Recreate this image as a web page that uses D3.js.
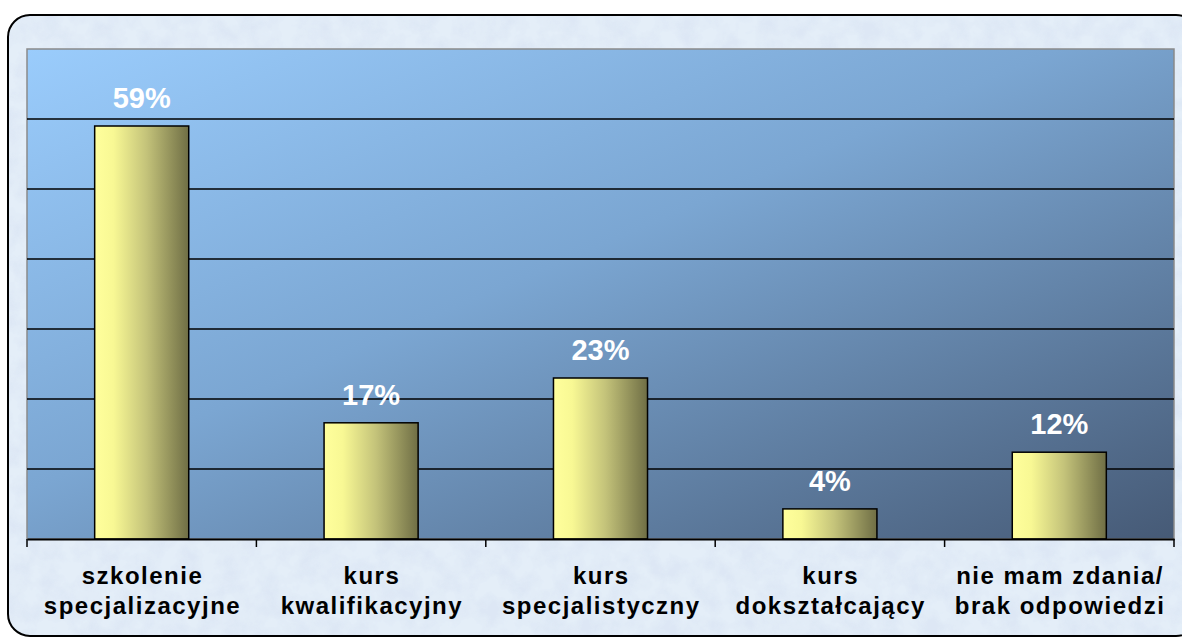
<!DOCTYPE html>
<html><head><meta charset="utf-8">
<script src="https://cdn.jsdelivr.net/npm/d3@7/dist/d3.min.js"></script>
<style>body{margin:0;background:#fff;}svg{display:block;}</style>
</head><body>
<svg id="c" width="1182" height="639"></svg>
<script>
const categories = [["szkolenie","specjalizacyjne"],["kurs","kwalifikacyjny"],["kurs","specjalistyczny"],["kurs","dokształcający"],["nie mam zdania/","brak odpowiedzi"]];
const values = [59, 16.6, 23, 4.3, 12.4];
const valueLabels = ["59%","17%","23%","4%","12%"];
const yTicks = [0,10,20,30,40,50,60,70];

const svg = d3.select("#c");
const defs = svg.append("defs");

// marble texture background
const f = defs.append("filter").attr("id","marble").attr("x",0).attr("y",0).attr("width","100%").attr("height","100%");
f.append("feTurbulence").attr("type","fractalNoise").attr("baseFrequency","0.05").attr("numOctaves",4).attr("seed",3).attr("result","n");
f.append("feColorMatrix").attr("in","n").attr("type","matrix")
 .attr("values","0 0 0 0 0.72  0 0 0 0 0.80  0 0 0 0 0.91  0 0 0 -2.2 1.5").attr("result","c");
f.append("feComposite").attr("in","c").attr("in2","SourceGraphic").attr("operator","in");

const pg = defs.append("linearGradient").attr("id","plotg").attr("x1","0").attr("y1","0").attr("x2","1").attr("y2","1");
pg.append("stop").attr("offset","0").attr("stop-color","#9ACCFC");
pg.append("stop").attr("offset","0.45").attr("stop-color","#7BA6D2");
pg.append("stop").attr("offset","1").attr("stop-color","#465A76");

const bg = defs.append("linearGradient").attr("id","barg").attr("x1","0").attr("y1","0").attr("x2","1").attr("y2","0");
bg.append("stop").attr("offset","0").attr("stop-color","#FFFF9C");
bg.append("stop").attr("offset","0.2").attr("stop-color","#F8F894");
bg.append("stop").attr("offset","0.55").attr("stop-color","#C4C37A");
bg.append("stop").attr("offset","1").attr("stop-color","#6F6E45");

// outer frame
svg.append("rect").attr("x",8).attr("y",15).attr("width",1190).attr("height",621).attr("rx",22)
  .attr("fill","#E4EEF8");
svg.append("rect").attr("x",8).attr("y",15).attr("width",1190).attr("height",621).attr("rx",22)
  .attr("fill","#fff").attr("filter","url(#marble)").attr("opacity",0.9);
svg.append("rect").attr("x",8).attr("y",15).attr("width",1190).attr("height",621).attr("rx",22)
  .attr("fill","none").attr("stroke","#000").attr("stroke-width",2);

const L = 27, R = 1174, T = 49, B = 539;
const x = d3.scaleBand().domain(d3.range(categories.length)).range([L,R]).paddingInner(0.59).paddingOuter(0.295);
const xOuter = d3.scaleBand().domain(d3.range(categories.length)).range([L,R]);
const y = d3.scaleLinear().domain([0,70]).range([B,T]);

svg.append("rect").attr("x",L).attr("y",T).attr("width",R-L).attr("height",B-T)
  .attr("fill","url(#plotg)").attr("stroke","#8a8a8a").attr("stroke-width",1.5);

// gridlines
svg.append("g").selectAll("line").data(yTicks.filter(t=>t>0 && t<70)).join("line")
  .attr("x1",L).attr("x2",R).attr("y1",d=>y(d)).attr("y2",d=>y(d))
  .attr("stroke","#000").attr("stroke-width",1.5);

// bars
svg.append("g").selectAll("rect").data(values).join("rect")
  .attr("x",(d,i)=>x(i)).attr("width",x.bandwidth())
  .attr("y",d=>y(d)).attr("height",d=>B-y(d))
  .attr("fill","url(#barg)").attr("stroke","#000").attr("stroke-width",1.5);

// x axis
const xa = d3.axisBottom(xOuter).tickSize(0).tickFormat("");
const ag = svg.append("g").attr("transform",`translate(0,${B})`).call(xa);
ag.select(".domain").attr("stroke","#000").attr("stroke-width",2);
svg.append("g").selectAll("line").data(d3.range(categories.length+1)).join("line")
  .attr("x1",i=>L+i*xOuter.step()).attr("x2",i=>L+i*xOuter.step())
  .attr("y1",B).attr("y2",B+8).attr("stroke","#000").attr("stroke-width",1.5);

// value labels
svg.append("g").selectAll("text").data(values).join("text")
  .attr("x",(d,i)=>x(i)+x.bandwidth()/2).attr("y",d=>y(d)-18)
  .attr("text-anchor","middle").attr("fill","#fff")
  .attr("font-family","Liberation Sans, Arial, sans-serif").attr("font-weight","bold").attr("font-size",29)
  .text((d,i)=>valueLabels[i]);

// category labels
const cg = svg.append("g");
categories.forEach((lines,i)=>{
  const t = cg.append("text").attr("text-anchor","middle")
    .attr("font-family","Liberation Sans, Arial, sans-serif").attr("font-weight","bold").attr("font-size",24)
    .attr("letter-spacing",1.5).attr("fill","#000");
  lines.forEach((ln,j)=>{
    t.append("tspan").attr("x",xOuter(i)+xOuter.bandwidth()/2 + 0.8).attr("y",584+j*30).text(ln);
  });
});
</script>
</body></html>
